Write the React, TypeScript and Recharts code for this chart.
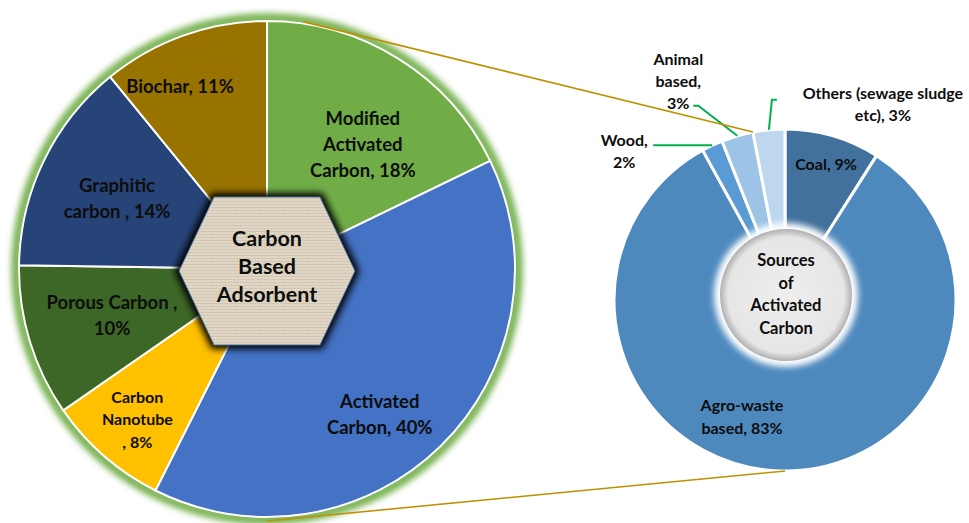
import { PieChart, Pie, Cell } from "recharts";

// ---- data ----
const LEFT_NAMES = [
  "Modified Activated Carbon",
  "Activated Carbon",
  "Carbon Nanotube",
  "Porous Carbon",
  "Graphitic carbon",
  "Biochar",
];
const LEFT_VALUES = [18, 40, 8, 10, 14, 11];
const LEFT_LABELS = [
  ["Modified", "Activated", "Carbon, 18%"],
  ["Activated", "Carbon, 40%"],
  ["Carbon", "Nanotube", ", 8%"],
  ["Porous Carbon ,", "10%"],
  ["Graphitic", "carbon , 14%"],
  ["Biochar, 11%"],
];

const RIGHT_NAMES = ["Coal", "Agro-waste based", "Wood", "Animal based", "Others (sewage sludge etc)"];
const RIGHT_VALUES = [9, 83, 2, 3, 3];
const RIGHT_LABELS = [
  ["Coal, 9%"],
  ["Agro-waste", "based, 83%"],
  ["Wood,", "2%"],
  ["Animal", "based,", "3%"],
  ["Others (sewage sludge", "etc), 3%"],
];

const LEFT_CENTER_TEXT = ["Carbon", "Based", "Adsorbent"];
const RIGHT_CENTER_TEXT = ["Sources", "of", "Activated", "Carbon"];

// ---- styles / layout ----
const LEFT_COLORS = ["#70ad47", "#4472c4", "#ffc000", "#3d6727", "#264478", "#997300"];
const RIGHT_COLORS = ["#41719c", "#4e89be", "#5b9bd5", "#9dc3e6", "#bdd7ee"];
const FONT = "Lato, 'Open Sans', sans-serif";
const GOLD = "#bf9000";
const LEADER = "#00b050";

const W = 969;
const H = 523;
const L = { cx: 267, cy: 269, r: 248 };
const R = { cx: 785, cy: 300, r: 171, inner: 55 };

// rf = radius fraction, da = nudge in degrees (clockwise), fs = font size, lh = line height
const LEFT_PLACE = [
  { rf: 0.635, da: 5.4, fs: 18.5, lh: 26 },
  { rf: 0.741, da: 6.7, fs: 18.5, lh: 26 },
  { rf: 0.797, da: 0, fs: 16, lh: 22.5 },
  { rf: 0.652, da: 0.4, fs: 18.5, lh: 26 },
  { rf: 0.669, da: -0.5, fs: 18.5, lh: 26 },
  { rf: 0.817, da: -5.8, fs: 18.5, lh: 26 },
];
// inside labels use rf/da, outside ones use leader path offsets from the slice's outer mid point
const RIGHT_PLACE: any[] = [
  { rf: 0.836, da: 0.5 },
  { rf: 0.718, da: 18.7 },
  { leader: [[0, 0], [-59, 0]], text: [-88, 5] },
  { leader: [[0, 0], [-39, -30], [-44, -30]], text: [-59, -56] },
  { leader: [[0, 0], [3, -30], [8, -30]], text: [114, -27] },
];

const RAD = Math.PI / 180;
const polar = (cx: number, cy: number, r: number, angle: number) => ({
  x: cx + r * Math.cos(-angle * RAD),
  y: cy + r * Math.sin(-angle * RAD),
});
// compass degrees (clockwise from top) -> point
const compass = (cx: number, cy: number, r: number, deg: number) => polar(cx, cy, r, 90 - deg);

const leftData = LEFT_NAMES.map((name, i) => ({ name, value: LEFT_VALUES[i] }));
const rightData = RIGHT_NAMES.map((name, i) => ({ name, value: RIGHT_VALUES[i] }));

function Lines({ x, y, lines, fs, lh }: { x: number; y: number; lines: string[]; fs: number; lh: number }) {
  const top = y - ((lines.length - 1) * lh) / 2;
  return (
    <text
      x={x}
      y={top}
      textAnchor="middle"
      dominantBaseline="central"
      fontFamily={FONT}
      fontWeight={700}
      fontSize={fs}
      fill="#0d0d0d"
    >
      {lines.map((t, i) => (
        <tspan key={i} x={x} y={top + i * lh}>
          {t}
        </tspan>
      ))}
    </text>
  );
}

const renderLeftLabel = (p: any) => {
  const place = LEFT_PLACE[p.index];
  const pt = polar(p.cx, p.cy, p.outerRadius * place.rf, p.midAngle - place.da);
  return <Lines key={p.index} x={pt.x} y={pt.y} lines={LEFT_LABELS[p.index]} fs={place.fs} lh={place.lh} />;
};

const renderRightLabel = (p: any) => {
  const place = RIGHT_PLACE[p.index];
  if (!place.leader) {
    const pt = polar(p.cx, p.cy, p.outerRadius * place.rf, p.midAngle - place.da);
    return <Lines key={p.index} x={pt.x} y={pt.y} lines={RIGHT_LABELS[p.index]} fs={16} lh={23} />;
  }
  const o = polar(p.cx, p.cy, p.outerRadius, p.midAngle);
  const pts = place.leader.map(([dx, dy]: number[]) => `${o.x + dx},${o.y + dy}`).join(" ");
  return (
    <g key={p.index}>
      <polyline points={pts} fill="none" stroke={LEADER} strokeWidth={2} />
      <Lines x={o.x + place.text[0]} y={o.y + place.text[1]} lines={RIGHT_LABELS[p.index]} fs={16} lh={22} />
    </g>
  );
};

function Back() {
  return (
    <svg width={W} height={H} style={{ position: "absolute", left: 0, top: 0 }}>
      <defs>
        <filter id="glow" x="-20%" y="-20%" width="140%" height="140%">
          <feGaussianBlur stdDeviation="3" />
        </filter>
      </defs>
      <circle cx={L.cx} cy={L.cy} r={L.r + 3} fill="none" stroke="#70ad47" strokeWidth={9} filter="url(#glow)" />
      <circle cx={L.cx} cy={L.cy} r={L.r + 1.5} fill="#70ad47" />
    </svg>
  );
}

function Front() {
  const hx = L.cx;
  const hy = L.cy + 2;
  const hex = [
    [hx - 88, hy],
    [hx - 53, hy - 74],
    [hx + 53, hy - 74],
    [hx + 88, hy],
    [hx + 53, hy + 74],
    [hx - 53, hy + 74],
  ]
    .map((q) => q.join(","))
    .join(" ");

  const cTop = compass(L.cx, L.cy, L.r + 2, 8.3);
  const cBot = compass(L.cx, L.cy, L.r + 4, 180);
  // connector ends: start of "Others" slice and bottom of the donut
  const othersStart = 360 * (1 - RIGHT_VALUES[4] / RIGHT_VALUES.reduce((a, b) => a + b, 0));
  const dTop = compass(R.cx, R.cy, R.r, othersStart);
  const dBot = compass(R.cx, R.cy, R.r, 180);

  const ccy = R.cy - 5;
  return (
    <svg width={W} height={H} style={{ position: "absolute", left: 0, top: 0, pointerEvents: "none" }}>
      <defs>
        <filter id="shadow" x="-30%" y="-30%" width="160%" height="160%">
          <feGaussianBlur stdDeviation="3.5" />
        </filter>
        <filter id="soft" x="-30%" y="-30%" width="160%" height="160%">
          <feGaussianBlur stdDeviation="3" />
        </filter>
        <pattern id="linen" width="3" height="3" patternUnits="userSpaceOnUse">
          <rect width="3" height="3" fill="#e1d8c8" />
          <line x1="0" y1="0.5" x2="3" y2="0.5" stroke="#cbbfa9" strokeWidth="0.7" />
          <line x1="0.5" y1="0" x2="0.5" y2="3" stroke="#d6ccb9" strokeWidth="0.6" />
        </pattern>
        <radialGradient id="stone" cx="50%" cy="50%" r="50%">
          <stop offset="0%" stopColor="#eeeeee" />
          <stop offset="88%" stopColor="#e6e6e6" />
          <stop offset="100%" stopColor="#b0b0b0" />
        </radialGradient>
      </defs>

      <polygon points={hex} fill="#000" stroke="#000" strokeWidth={8} filter="url(#shadow)" />
      <polygon points={hex} fill="url(#linen)" stroke="#4a6f9a" strokeWidth={1} />
      <Lines x={hx} y={hy - 5} lines={LEFT_CENTER_TEXT} fs={21.5} lh={28} />

      <circle cx={R.cx + 1} cy={ccy} r={72} fill="#ffffff" filter="url(#soft)" />
      <circle cx={R.cx + 1} cy={ccy} r={66} fill="url(#stone)" />
      <Lines x={R.cx + 1} y={ccy - 1} lines={RIGHT_CENTER_TEXT} fs={16.5} lh={22.5} />

      <line x1={cTop.x} y1={cTop.y} x2={dTop.x} y2={dTop.y} stroke={GOLD} strokeWidth={1.6} />
      <line x1={cBot.x} y1={cBot.y} x2={dBot.x} y2={dBot.y} stroke={GOLD} strokeWidth={1.6} />
    </svg>
  );
}

export default function App() {
  return (
    <div style={{ position: "absolute", left: 0, top: 0, width: W, height: H, background: "#fff", overflow: "hidden" }}>
      <Back />
      <div style={{ position: "absolute", left: 0, top: 0 }}>
        <PieChart width={W} height={H} margin={{ top: 0, right: 0, bottom: 0, left: 0 }}>
          <Pie
            data={leftData}
            dataKey="value"
            nameKey="name"
            cx={L.cx}
            cy={L.cy}
            outerRadius={L.r}
            startAngle={90}
            endAngle={-270}
            stroke="#ffffff"
            strokeWidth={2}
            label={renderLeftLabel}
            labelLine={false}
            isAnimationActive={false}
          >
            {leftData.map((_, i) => (
              <Cell key={i} fill={LEFT_COLORS[i]} />
            ))}
          </Pie>
          <Pie
            data={rightData}
            dataKey="value"
            nameKey="name"
            cx={R.cx}
            cy={R.cy}
            innerRadius={R.inner}
            outerRadius={R.r}
            startAngle={90}
            endAngle={-270}
            stroke="#ffffff"
            strokeWidth={3}
            label={renderRightLabel}
            labelLine={false}
            isAnimationActive={false}
          >
            {rightData.map((_, i) => (
              <Cell key={i} fill={RIGHT_COLORS[i]} />
            ))}
          </Pie>
        </PieChart>
      </div>
      <Front />
    </div>
  );
}
